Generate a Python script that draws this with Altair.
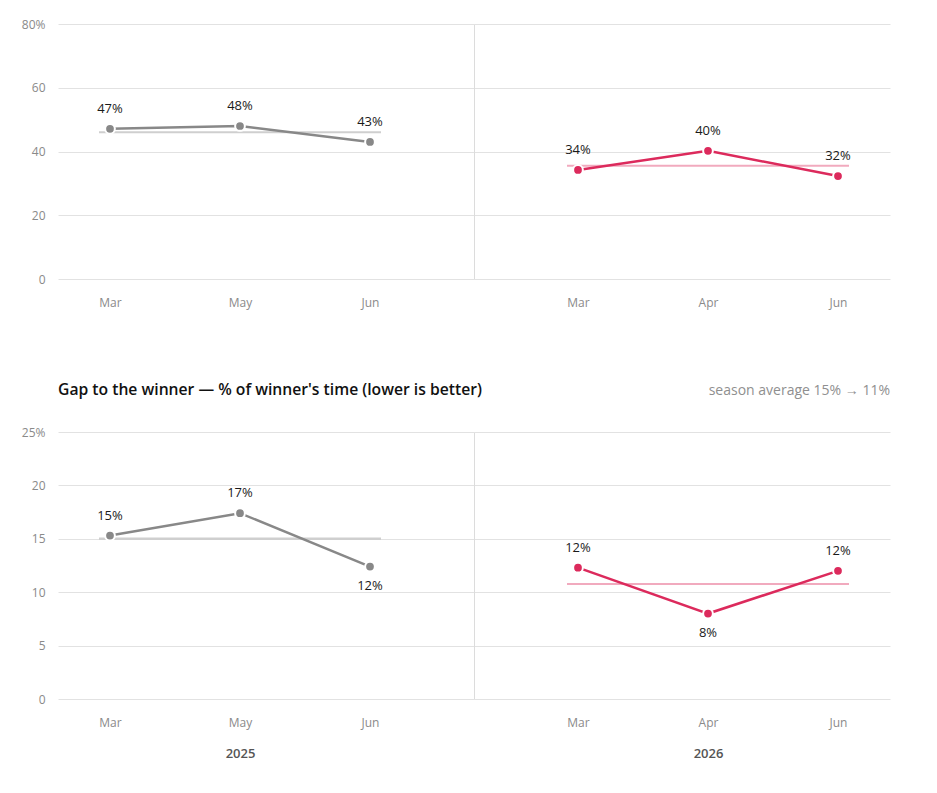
import altair as alt
import pandas as pd

# ---- data ----
MONTHS_2025 = ["Mar", "May", "Jun"]
MONTHS_2026 = ["Mar", "Apr", "Jun"]
YEARS = ["2025", "2026"]

SHARE_2025 = [47.1, 48.0, 43.0]   # upper panel, %
SHARE_2026 = [34.2, 40.2, 32.3]
GAP_2025 = [15.3, 17.4, 12.4]     # lower panel, % of winner's time
GAP_2026 = [12.3, 8.0, 12.0]

TITLE = "Gap to the winner \u2014 % of winner's time (lower is better)"
SUBTITLE = "season average {:.0f}% \u2192 {:.0f}%".format(
    sum(GAP_2025) / len(GAP_2025), sum(GAP_2026) / len(GAP_2026))

FONT = "Open Sans"
GRAY = "#888888"
PINK = "#dc2a5c"
GRID = "#e2e2e2"


def panel(months, values, color, ymax, ystep, height, side, lower_better,
          year=None, title=None):
    df = pd.DataFrame({"month": months, "value": values})
    align = 1 / 3 if side == "left" else 2 / 3
    x_axis = alt.Axis(
        title=year if year else None,
        labelAngle=0, labelAlign="center", labelBaseline="top",
        labelColor="#8a8a8a", labelFontSize=12, labelPadding=18,
        tickSize=0, ticks=False, domain=False, grid=False,
        titleFontSize=13, titleFontWeight=600, titleColor="#555555",
        titleX=182 if side == "left" else 234, titleY=54,
        titleBaseline="middle", titleAlign="center",
    )
    x = alt.X("month:N", sort=months,
              scale=alt.Scale(type="point", domain=months, padding=0.6, align=align),
              axis=x_axis)
    tick_vals = list(range(0, ymax + 1, ystep))
    if side == "left":
        y_axis = alt.Axis(values=tick_vals, title=None, labelColor="#8a8a8a",
                          labelFontSize=12, labelPadding=13, tickSize=0, ticks=False,
                          domain=False, grid=True, gridColor=GRID,
                          labelExpr="datum.value === %d ? datum.label + '%%' : datum.label" % ymax)
    else:
        y_axis = alt.Axis(values=tick_vals, title=None, labels=False, ticks=False,
                          tickSize=0, domain=True, domainColor="#dcdcdc",
                          grid=True, gridColor=GRID)
    yscale = alt.Scale(domain=[0, ymax], nice=False, zero=True)

    base = alt.Chart(df)
    rule = base.mark_rule(color=color, opacity=0.4, strokeWidth=2,
                          xOffset=-11, x2Offset=11).encode(
        x=alt.X(datum=months[0], type="nominal"),
        x2=alt.X2(datum=months[-1]),
        y=alt.Y("mean(value):Q", scale=yscale, axis=y_axis),
    )
    line = base.mark_line(color=color, strokeWidth=2.5).encode(
        x=x, y=alt.Y("value:Q", scale=yscale, axis=y_axis))
    pts = base.mark_circle(size=95, color=color, opacity=1, stroke="white",
                           strokeWidth=2).encode(
        x=x, y=alt.Y("value:Q", scale=yscale, axis=y_axis))

    lab = base.transform_joinaggregate(avg="mean(value)").transform_calculate(
        label="format(datum.value, '.0f') + '%'",
        below=("datum.value < datum.avg" if lower_better else "false"),
    )
    txt_kw = dict(font=FONT, fontSize=13, fontWeight=500, color="#1a1a1a")
    above = lab.mark_text(dy=-20, **txt_kw).encode(
        x=x, y=alt.Y("value:Q", scale=yscale, axis=y_axis), text="label:N"
    ).transform_filter("!datum.below")
    below = lab.mark_text(dy=19, **txt_kw).encode(
        x=x, y=alt.Y("value:Q", scale=yscale, axis=y_axis), text="label:N"
    ).transform_filter("datum.below")

    props = dict(width=416, height=height)
    if title is not None:
        props["title"] = title
    return alt.layer(rule, line, pts, above, below).properties(**props)


title_left = alt.TitleParams(TITLE, anchor="start", frame="group", fontSize=15.7,
                             fontWeight=600, color="#111111", font=FONT,
                             baseline="alphabetic", offset=15)
title_right = alt.TitleParams(SUBTITLE, anchor="end", frame="group", fontSize=14,
                              fontWeight="normal", color="#8f8f8f", font=FONT,
                              baseline="alphabetic", offset=23)

top = alt.hconcat(
    panel(MONTHS_2025, SHARE_2025, GRAY, 80, 20, 255, "left", False),
    panel(MONTHS_2026, SHARE_2026, PINK, 80, 20, 255, "right", False),
    spacing=0, bounds="flush",
)
bottom = alt.hconcat(
    panel(MONTHS_2025, GAP_2025, GRAY, 25, 5, 267, "left", True,
          year=YEARS[0], title=title_left),
    panel(MONTHS_2026, GAP_2026, PINK, 25, 5, 267, "right", True,
          year=YEARS[1], title=title_right),
    spacing=0, bounds="flush",
)

chart = alt.vconcat(top, bottom, spacing=74).properties(
    padding={"left": 13, "top": 10, "right": 5, "bottom": 5}
).configure_view(stroke=None).configure_axis(
    labelFont=FONT, titleFont=FONT
).configure_title(font=FONT)

chart.save("out.html", embed_options={"renderer": "svg", "actions": False})
